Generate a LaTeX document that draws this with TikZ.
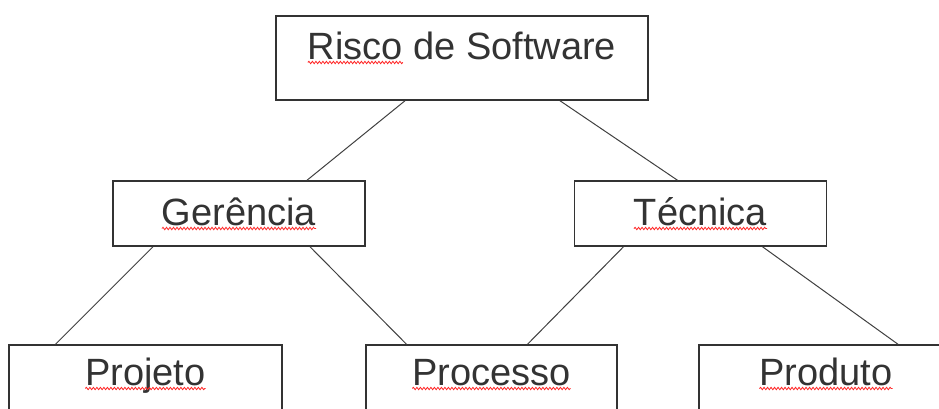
\documentclass[tikz,border=0pt]{standalone}
\usepackage{fontspec}
\setmainfont{Liberation Sans}
\usetikzlibrary{positioning, decorations.pathmorphing}
\colorlet{box edge}{black!80}
\colorlet{link line}{black!75}
\newcommand{\boxfont}{\fontsize{38}{44}\selectfont}
\newlength\waveleft
\newlength\waveright
% #1 node name, #2 whole text of the node, #3 word to mark
\newcommand{\measurewave}[3]{%
  \settowidth{\waveleft}{\boxfont #2}%
  \settowidth{\waveright}{\boxfont #3}%
  \setlength{\waveleft}{-0.5\waveleft}%
  \addtolength{\waveright}{\waveleft}%
  \expandafter\xdef\csname wl#1\endcsname{\the\waveleft}%
  \expandafter\xdef\csname wr#1\endcsname{\the\waveright}}
\tikzset{
  riskbox/.style={draw=box edge, line width=1.5pt, inner sep=0pt, text=black!80,
    font=\boxfont},
  link/.style={draw=link line, line width=1pt},
  squiggle/.style={draw=red!85, line width=0.8pt, decorate,
    decoration={snake, amplitude=1.2pt, segment length=3.5pt}}
}

\begin{document}
\measurewave{risco}{Risco de Software}{Risco}%
\measurewave{gerencia}{Gerência}{Gerência}%
\measurewave{tecnica}{Técnica}{Técnica}%
\measurewave{projeto}{Projeto}{Projeto}%
\measurewave{processo}{Processo}{Processo}%
\measurewave{produto}{Produto}{Produto}%
\begin{tikzpicture}[x=1pt, y=-1pt]
	\tikzstyle{midbox}=[riskbox, minimum width=252pt, text height=44pt, text depth=21pt]
	\tikzstyle{lowbox}=[riskbox, text height=40pt, text depth=25pt]

	\clip (0,0) rectangle (939,408);

	\node[riskbox, minimum width=372pt, text height=43pt, text depth=41pt] (risco) at (462,58) {Risco de Software};

	\node[midbox] (gerencia) at (239,213.5) {Gerência};
	\node[midbox] (tecnica) at (700.5,213.5) {Técnica};

	\node[lowbox, minimum width=273pt] (projeto) at (145.5,377.5) {Projeto};
	\node[lowbox, minimum width=251pt] (processo) at (491.5,377.5) {Processo};
	\node[lowbox, minimum width=254pt] (produto) at (826,377.5) {Produto};

	\draw[link] ([xshift=-57pt]risco.south) -- ([xshift=68pt]gerencia.north);
	\draw[link] ([xshift=98pt]risco.south) -- ([xshift=-23pt]tecnica.north);
	\draw[link] ([xshift=-86pt]gerencia.south) -- ([xshift=-90pt]projeto.north);
	\draw[link] ([xshift=71pt]gerencia.south) -- ([xshift=-85pt]processo.north);
	\draw[link] ([xshift=-77pt]tecnica.south) -- ([xshift=36pt]processo.north);
	\draw[link] ([xshift=62pt]tecnica.south) -- ([xshift=72pt]produto.north);

	% spell-check marks
	\foreach \where in {risco, gerencia, tecnica, projeto, processo, produto}{
	  \draw[squiggle] ([xshift=\csname wl\where\endcsname, yshift=-3.5pt]\where.base)
	    -- ([xshift=\csname wr\where\endcsname, yshift=-3.5pt]\where.base);
	}
\end{tikzpicture}
\end{document}
